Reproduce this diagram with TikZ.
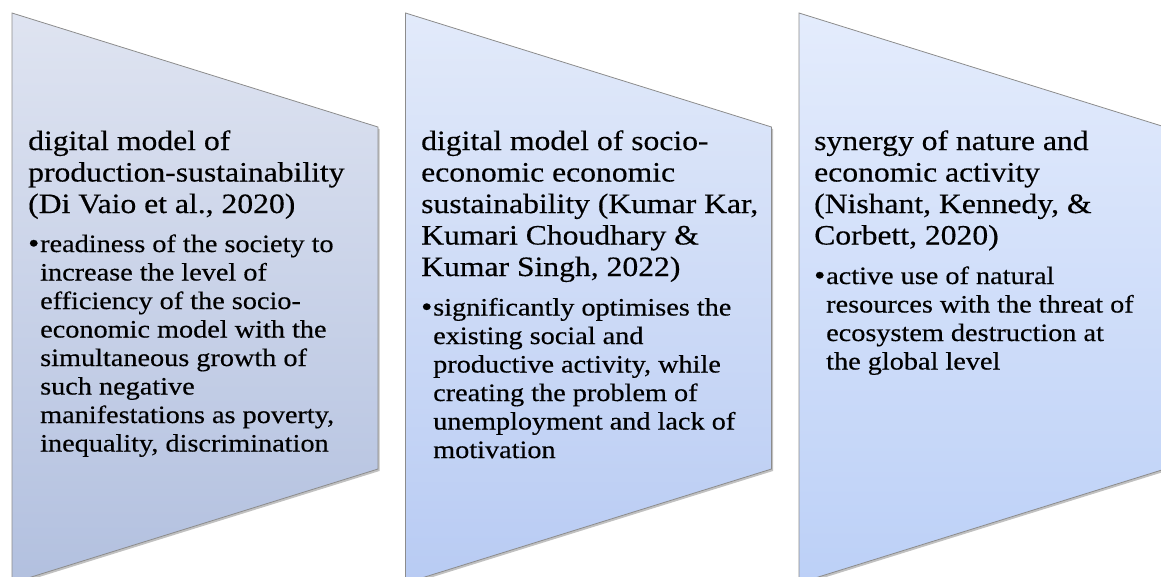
\documentclass[tikz,border=0pt]{standalone}
\usepackage{fontspec}
\setmainfont{Liberation Serif}[FakeStretch=1.13,FakeBold=0.4]
\usetikzlibrary{shadows}
\definecolor{aTop}{HTML}{DFE4F1}
\definecolor{aBot}{HTML}{B2C0DF}
\definecolor{bTop}{HTML}{E2EAFA}
\definecolor{bBot}{HTML}{B8CBF3}
\definecolor{cTop}{HTML}{E4ECFC}
\definecolor{cBot}{HTML}{BCD0F7}
\tikzset{
  panel/.style={draw=black!45, line width=0.8pt,
    drop shadow={shadow xshift=1.5pt, shadow yshift=-2pt, opacity=0.35, fill=black!70}},
  head/.style={anchor=base west, inner sep=0pt, font=\fontsize{28}{31.5}\selectfont},
  bul/.style={anchor=base west, inner sep=0pt, font=\fontsize{25}{28.5}\selectfont},
}
\newcommand{\bulpar}[1]{\makebox[12pt][l]{\raisebox{-0.5pt}{\fontsize{28}{28}\selectfont\textbullet}}\parbox[t]{340pt}{\raggedright #1}}
\newcommand{\headpar}[1]{\parbox[t]{350pt}{\raggedright #1}}
\begin{document}
\begin{tikzpicture}[x=1pt,y=-1pt]
\useasboundingbox (0,0) rectangle (1161,576);
% panels
\draw[panel, top color=aTop, bottom color=aBot] (12,13) -- (378,127) -- (378,469) -- (12,583) -- cycle;
\draw[panel, top color=bTop, bottom color=bBot] (405.5,13) -- (771.5,127) -- (771.5,469) -- (405.5,583) -- cycle;
\draw[panel, top color=cTop, bottom color=cBot] (799,13) -- (1165,127) -- (1165,469) -- (799,583) -- cycle;
% box 1
\node[head] (h1) at (28,150) {\headpar{digital model of\\ production-sustainability\\ (Di Vaio et al., 2020)}};
\node[bul] (b1) at (28,252) {\bulpar{readiness of the society to\\ increase the level of\\ efficiency of the socio-\\ economic model with the\\ simultaneous growth of\\ such negative\\ manifestations as poverty,\\ inequality, discrimination}};
% box 2
\node[head] (h2) at (421,150) {\headpar{digital model of socio-\\ economic economic\\ sustainability (Kumar Kar,\\ Kumari Choudhary \&\\ Kumar Singh, 2022)}};
\node[bul] (b2) at (421,315.5) {\bulpar{significantly optimises the\\ existing social and\\ productive activity, while\\ creating the problem of\\ unemployment and lack of\\ motivation}};
% box 3
\node[head] (h3) at (814,150) {\headpar{synergy of nature and\\ economic activity\\ (Nishant, Kennedy, \&\\ Corbett, 2020)}};
\node[bul] (b3) at (814,284) {\bulpar{active use of natural\\ resources with the threat of\\ ecosystem destruction at\\ the global level}};
\end{tikzpicture}
\end{document}
